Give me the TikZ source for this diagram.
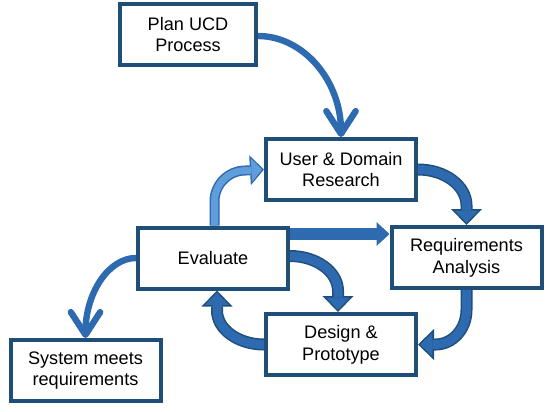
\documentclass[tikz,border=0pt]{standalone}
\usepackage{fontspec}
\setmainfont{Liberation Sans}
\usetikzlibrary{arrows.meta,calc,backgrounds}

\definecolor{boxblue}{RGB}{31,78,121}
\definecolor{arrowblue}{RGB}{46,106,176}
\definecolor{arrowdark}{RGB}{31,78,121}
\definecolor{lightblue}{RGB}{95,158,218}

\tikzset{every picture/.style={line width=0.75pt}}

% two passes: dark edge, then fill
\newcommand{\blockarrow}[3]{%
  \draw[#1] #3;
  \draw[#2] #3;}

\begin{document}
\begin{tikzpicture}[x=0.75pt,y=0.75pt,yscale=-1,xscale=1,
  box/.style={draw=boxblue, line width=3pt, fill=white, minimum width=112.5pt,
    minimum height=45.75pt, align=center, inner sep=0.75pt,
    font=\fontsize{13.6}{16.3}\selectfont},
  thinarrow/.style={draw=arrowblue, line width=4.8pt,
    -{Straight Barb[length=17pt,width=22pt,round]}},
  fatedge/.style={draw=arrowdark, line width=9pt,
    -{Triangle[length=12pt,width=23.25pt,line width=0pt]}},
  fatfill/.style={draw=arrowblue, line width=6.75pt, shorten >=1.62pt,
    -{Triangle[length=9.25pt,width=17.9pt,line width=0pt]}},
  lightedge/.style={draw=arrowblue, line width=7.5pt,
    -{Triangle[length=10.5pt,width=22.5pt,line width=0pt]}},
  lightfill/.style={draw=lightblue, line width=5.25pt, shorten >=1.6pt,
    -{Triangle[length=7.8pt,width=17.4pt,line width=0pt]}},
  flatarrow/.style={draw=arrowblue, line width=9pt,
    -{Triangle[length=9.75pt,width=18pt,line width=0pt]}}
]
\useasboundingbox (0,0) rectangle (550,411);

%Shape: Rectangle [plan]
\node[box, minimum width=102pt] (plan) at (188,34.5) {Plan UCD\\Process};
%Shape: Rectangle [research]
\node[box] (user) at (341,169.5) {User \& Domain\\Research};
%Shape: Rectangle [requirements]
\node[box] (req) at (466.5,257.5) {Requirements\\Analysis};
%Shape: Rectangle [evaluate]
\node[box] (eval) at (213,258) {Evaluate};
%Shape: Rectangle [design]
\node[box] (design) at (341,344.5) {Design \&\\Prototype};
%Shape: Rectangle [done]
\node[box] (sys) at (85.5,370.5) {System meets\\requirements};

\begin{scope}[on background layer]
%Curved Arrow [plan to research]
\draw[thinarrow] ($(plan.east)+(0,1.5)$) arc[start angle=-90,end angle=0,x radius=83,y radius=101];
%Curved Arrow [evaluate to done]
\draw[thinarrow] (eval.west) arc[start angle=-90,end angle=-180,x radius=50.5,y radius=80];

%Block Arc [evaluate to research]
\blockarrow{lightedge}{lightfill}{($(eval.north)+(1.5,0)$) -- ++(0,-24) arc[start angle=180,end angle=270,radius=31] -- (user.west)}
%Block Arc [research to requirements]
\blockarrow{fatedge}{fatfill}{(user.east) arc[start angle=-90,end angle=0,x radius=48.5,y radius=36] -- (req.north)}
%Block Arc [requirements to design]
\blockarrow{fatedge}{fatfill}{(req.south) -- ++(0,20) arc[start angle=0,end angle=90,x radius=31,y radius=34.5] -- (design.east)}
%Block Arc [design to evaluate]
\blockarrow{fatedge}{fatfill}{(design.west) arc[start angle=90,end angle=180,x radius=47,y radius=34] -- ($(eval.south)+(4,0)$)}
%Block Arc [evaluate to design]
\blockarrow{fatedge}{fatfill}{($(eval.east)+(0,-2)$) arc[start angle=-90,end angle=0,x radius=48,y radius=35] -- ($(design.north)+(-3,0)$)}

%Block Arrow [evaluate to requirements]
\draw[flatarrow] ($(eval.east)+(0,-24)$) -- ($(req.west)+(0,-23.5)$);
\end{scope}

\end{tikzpicture}
\end{document}
